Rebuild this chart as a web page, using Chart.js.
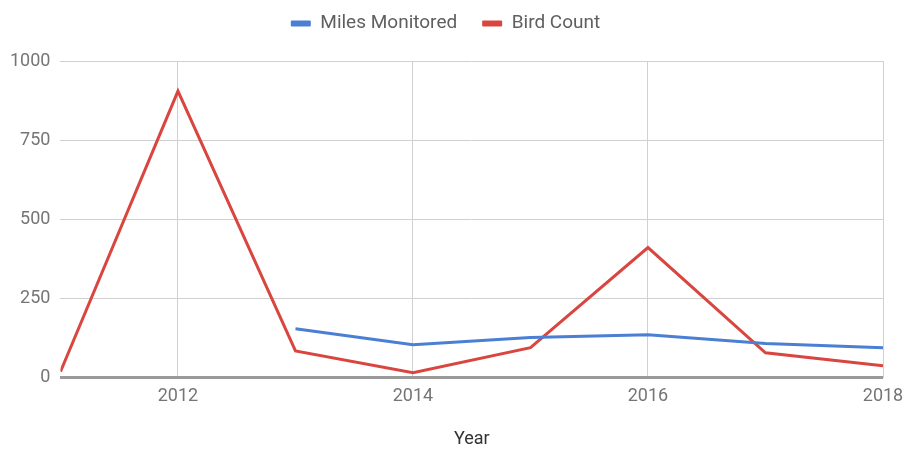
<!DOCTYPE html>
<html>
<head>
<meta charset="utf-8">
<script src="https://cdn.jsdelivr.net/npm/chart.js@4/dist/chart.umd.min.js"></script>
<style>
  html, body { margin: 0; padding: 0; background: #fff; }
  #wrap { width: 905px; height: 450px; }
</style>
</head>
<body>
<div id="wrap"><canvas id="c" width="905" height="450"></canvas></div>
<script>
// Yearly survey figures
const years = [2011, 2012, 2013, 2014, 2015, 2016, 2017, 2018];
const milesMonitored = [null, null, 155, 104, 127, 136, 108, 95];
const birdCount = [19, 905, 85, 16, 95, 411, 79, 38];
const xTickYears = [2012, 2014, 2016, 2018];
const yTicks = [0, 250, 500, 750, 1000];

const toPoints = vals => years.map((yr, i) => ({ x: yr, y: vals[i] }));

// Wide spacing between legend items, legend row kept near the top edge
const legendGap = {
  id: 'legendGap',
  beforeInit(chart) {
    const legend = chart.legend;
    const fit = legend.fit;
    legend.fit = function () {
      fit.call(this);
      this.height += 7;
    };
    const draw = legend.draw;
    legend.draw = function () {
      const ctx = this.ctx;
      ctx.save();
      ctx.translate(4, -11);
      draw.call(this);
      ctx.restore();
    };
  }
};

new Chart(document.getElementById('c'), {
  type: 'line',
  data: {
    datasets: [
      {
        label: 'Miles Monitored',
        data: toPoints(milesMonitored),
        borderColor: '#4a7fd4',
        backgroundColor: '#4a7fd4',
        borderWidth: 3,
        pointRadius: 0,
        tension: 0,
        spanGaps: false
      },
      {
        label: 'Bird Count',
        data: toPoints(birdCount),
        borderColor: '#d9463f',
        backgroundColor: '#d9463f',
        borderWidth: 3,
        pointRadius: 0,
        tension: 0
      }
    ]
  },
  plugins: [legendGap],
  options: {
    responsive: false,
    animation: false,
    layout: { padding: { left: 0, right: 22, top: 0, bottom: 0 } },
    plugins: {
      legend: {
        position: 'top',
        labels: {
          font: { family: 'Roboto', size: 19 },
          color: '#5f5f5f',
          boxWidth: 20,
          boxHeight: 6,
          useBorderRadius: true,
          borderRadius: 1,
          padding: 25,
          generateLabels: chart =>
            Chart.defaults.plugins.legend.labels.generateLabels(chart)
              .map(item => ({ ...item, lineWidth: 0 }))
        }
      },
      tooltip: { enabled: false }
    },
    scales: {
      x: {
        type: 'linear',
        min: 2011,
        max: 2018,
        afterBuildTicks: axis => { axis.ticks = xTickYears.map(v => ({ value: v })); },
        afterFit: axis => { axis.paddingRight = 0; },
        ticks: {
          font: { family: 'Roboto', size: 18 },
          color: '#757575',
          padding: 8,
          maxRotation: 0,
          callback: v => String(v)
        },
        grid: { color: '#d0d0d0', lineWidth: 1, drawTicks: false },
        border: { display: false },
        title: {
          display: true,
          text: 'Year',
          font: { family: 'Roboto', size: 18 },
          color: '#333',
          padding: { top: 13, bottom: 0 }
        }
      },
      y: {
        min: 0,
        max: 1000,
        afterBuildTicks: axis => { axis.ticks = yTicks.map(v => ({ value: v })); },
        ticks: {
          font: { family: 'Roboto', size: 18 },
          color: '#757575',
          padding: 10,
          callback: v => String(v)
        },
        grid: {
          drawTicks: false,
          color: ctx => ctx.tick && ctx.tick.value === 0 ? '#9a9a9a' : '#d0d0d0',
          lineWidth: ctx => ctx.tick && ctx.tick.value === 0 ? 3 : 1
        },
        border: { display: false }
      }
    }
  }
});
</script>
</body>
</html>
